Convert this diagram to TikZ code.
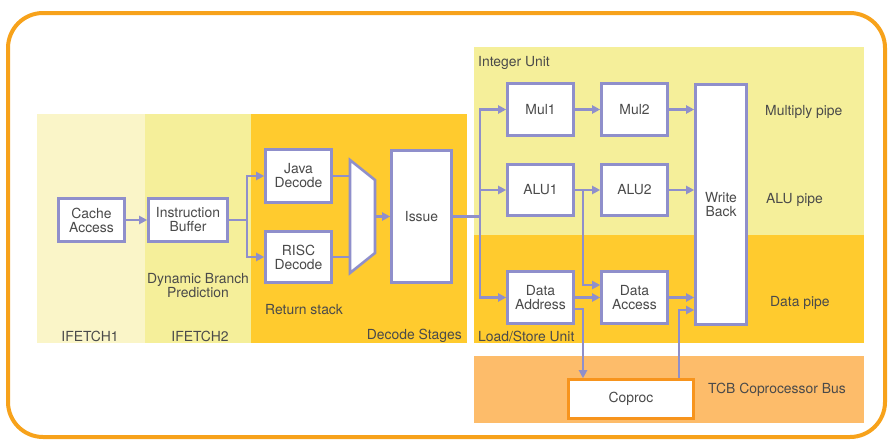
\documentclass[tikz,border=0pt]{standalone}
\usepackage{fontspec}
\setmainfont{TeX Gyre Heros}
\usetikzlibrary{arrows.meta}
\definecolor{bord}{HTML}{F7A21B}
\definecolor{fetchA}{HTML}{FAF5C8}
\definecolor{fetchB}{HTML}{F5EF9A}
\definecolor{deco}{HTML}{FFCB2E}
\definecolor{tcb}{HTML}{FDBC6A}
\definecolor{lav}{HTML}{8F8FCB}
\definecolor{cpo}{HTML}{F7941D}
\definecolor{txt}{HTML}{4A4A4A}
\tikzset{
  every node/.style={font=\fontsize{13.9}{14}\selectfont, text=txt},
  blk/.style={draw=lav, line width=2.6pt, fill=white, inner sep=0pt, align=center},
  ln/.style={draw=lav, line width=2.6pt},
  arr/.style={draw=lav, line width=2.6pt, -{Triangle[length=8pt,width=8pt]}},
  lbl/.style={inner sep=0pt},
}
\begin{document}
\begin{tikzpicture}[x=1pt,y=-1pt]
\useasboundingbox (0,0) rectangle (890,439);
% outer border
\draw[bord, line width=4pt, rounded corners=35pt] (8,13) rectangle (885,437);
% bands
\fill[fetchA] (37,114) rectangle (145,343);
\fill[fetchB] (145,114) rectangle (251,343);
\fill[deco] (251,114) rectangle (467,343);
\fill[fetchB] (474,47) rectangle (864,235);
\fill[deco] (474,235) rectangle (864,343);
\fill[tcb] (474,356) rectangle (864,423);
% boxes
\node[blk, minimum width=66pt, minimum height=43pt] (ca) at (91.5,220) {Cache\\Access};
\node[blk, minimum width=79pt, minimum height=43pt] (ib) at (188,220) {Instruction\\Buffer};
\node[blk, minimum width=66pt, minimum height=53pt] (jd) at (298.5,176) {Java\\Decode};
\node[blk, minimum width=66pt, minimum height=51pt] (rd) at (298.5,257) {RISC\\Decode};
\node[blk, minimum width=60pt, minimum height=132pt] (is) at (421.5,216.5) {Issue};
\node[blk, minimum width=66pt, minimum height=52pt] (mu1) at (540.5,109.5) {Mul1};
\node[blk, minimum width=66pt, minimum height=52pt] (mu2) at (634.5,109.5) {Mul2};
\node[blk, minimum width=66pt, minimum height=51pt] (al1) at (540.5,190) {ALU1};
\node[blk, minimum width=66pt, minimum height=51pt] (al2) at (634.5,190) {ALU2};
\node[blk, minimum width=66pt, minimum height=52pt] (da) at (540.5,297.5) {Data\\Address};
\node[blk, minimum width=66pt, minimum height=52pt] (dac) at (634.5,297.5) {Data\\Access};
\node[blk, minimum width=51pt, minimum height=240pt] (wb) at (721,204.5) {Write\\Back};
\node[blk, draw=cpo, minimum width=125pt, minimum height=39pt] (cp) at (631,399) {Coproc};
% mux
\coordinate (mx1) at (350,160);
\coordinate (mx2) at (375,180);
\coordinate (mx3) at (375,253);
\coordinate (mx4) at (350,273);
\coordinate (mo) at (375,216.5);
\draw[ln, fill=white, line join=miter] (mx1) -- (mx2) -- (mx3) -- (mx4) -- cycle;
% connectors
\draw[arr] (ca.east) -- (ib.west);
\coordinate (s1) at (247,220);
\draw[ln] (ib.east) -- (s1);
\draw[arr] (s1) |- (jd.west);
\draw[arr] (s1) |- (rd.west);
\draw[ln] (jd.east) -- (jd.east -| mx1);
\draw[ln] (rd.east) -- (rd.east -| mx1);
\draw[arr] (mo) -- (is.west);
\coordinate (b0) at (480,216.5);
\draw[ln] (is.east) -- (b0);
\draw[arr] (b0) |- (mu1.west);
\draw[arr] (b0) |- (al1.west);
\draw[arr] (b0) |- (da.west);
\draw[arr] (mu1.east) -- (mu2.west);
\draw[arr] (mu2.east) -- (mu2.east -| wb.west);
\draw[arr] (al1.east) -- (al2.west);
\draw[arr] (al2.east) -- (al2.east -| wb.west);
\coordinate (v1) at (583,190);
\coordinate (v1e) at (600,285);
\draw[arr] (v1) |- (v1e -| dac.west);
\draw[arr] (da.east) -- (dac.west);
\coordinate (v2) at (583,309);
\draw[arr] (da.east |- v2) -- (v2) -- (v2 |- cp.north);
\draw[arr] (dac.east) -- (dac.east -| wb.west);
\coordinate (v3) at (679,310);
\draw[arr] (v3 |- cp.north) -- (v3) -- (v3 -| wb.west);
% labels
\node[lbl] (l1) at (90,336) {IFETCH1};
\node[lbl] (l2) at (200,336) {IFETCH2};
\node[lbl, align=center] (l3) at (198,286) {Dynamic Branch\\Prediction};
\node[lbl, anchor=west] (l4) at (265,310) {Return stack};
\node[lbl, anchor=east] (l5) at (462,336) {Decode Stages};
\node[lbl, anchor=west] (l6) at (478,63) {Integer Unit};
\node[lbl, anchor=west] (l7) at (765,112) {Multiply pipe};
\node[lbl, anchor=west] (l8) at (766,200) {ALU pipe};
\node[lbl, anchor=west] (l9) at (770,303) {Data pipe};
\node[lbl, anchor=west] (l10) at (478,336) {Load/Store Unit};
\node[lbl, anchor=west] (l11) at (708,390) {TCB Coprocessor Bus};
\end{tikzpicture}
\end{document}
